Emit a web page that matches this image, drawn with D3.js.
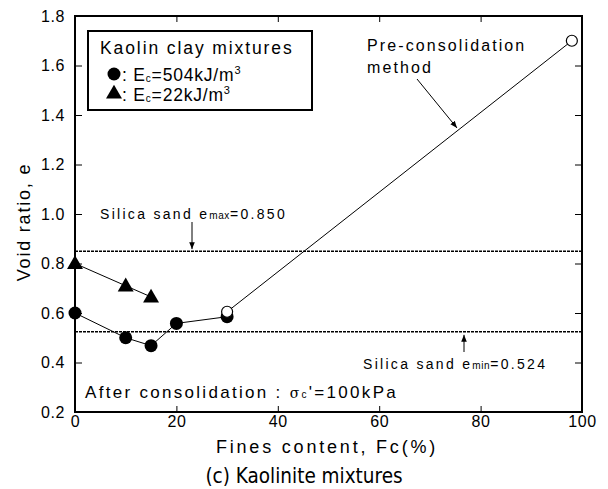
<!DOCTYPE html>
<html>
<head>
<meta charset="utf-8">
<script src="https://cdn.jsdelivr.net/npm/d3@7"></script>
<style>
    body { margin: 0; background: #fff; }
    svg { display: block; font-family: "Liberation Sans", Arial, sans-serif; }
    .axis path { display: none; }
    .axis line { stroke: #000; stroke-width: 1; }
    .axis text { font-size: 16px; fill: #000; letter-spacing: 0.6px; font-family: "Liberation Sans", Arial, sans-serif; }
</style>
</head>
<body>
<svg id="chart" width="608" height="489"></svg>
<script>
/**
 * Data.
 */
const xTicks = [0, 20, 40, 60, 80, 100],
    yTicks = [0.2, 0.4, 0.6, 0.8, 1.0, 1.2, 1.4, 1.6, 1.8];

// Ec = 504 kJ/m3 (filled circles)
const highEnergy = [
    { fc: 0, e: 0.60 }, { fc: 10, e: 0.50 }, { fc: 15, e: 0.468 },
    { fc: 20, e: 0.558 }, { fc: 30, e: 0.585 }
];
// Ec = 22 kJ/m3 (filled triangles)
const lowEnergy = [
    { fc: 0, e: 0.80 }, { fc: 10, e: 0.71 }, { fc: 15, e: 0.665 }
];
// Pre-consolidation method (open circles)
const preConsolidation = [
    { fc: 30, e: 0.605 }, { fc: 98, e: 1.70 }
];
const eMax = 0.850, eMin = 0.524;

/**
 * Visual configs.
 */
const margin = { top: 16, right: 26, bottom: 77, left: 75 },
    visWidth = 608, visHeight = 489,
    width = visWidth - margin.left - margin.right,
    height = visHeight - margin.top - margin.bottom;

const svg = d3.select('#chart');
const g = svg.append('g').attr('transform', 'translate(' + margin.left + ',' + margin.top + ')');

const xScale = d3.scaleLinear().domain([0, 100]).range([0, width]),
    yScale = d3.scaleLinear().domain([0.2, 1.8]).range([height, 0]);

// Axes, ticks pointing inward
g.append('g').attr('class', 'axis x')
    .attr('transform', 'translate(0,' + height + ')')
    .call(d3.axisBottom(xScale).tickValues(xTicks).tickSize(-6).tickPadding(4).tickFormat(d3.format('d')))
    .call(s => s.selectAll('line').filter(d => d === 0 || d === 100).remove());

g.append('g').attr('class', 'axis x-top')
    .call(d3.axisTop(xScale).tickValues(xTicks.slice(1, -1)).tickSize(-6).tickFormat(''));

g.append('g').attr('class', 'axis y')
    .call(d3.axisLeft(yScale).tickValues(yTicks).tickSize(-7).tickPadding(10).tickFormat(d3.format('.1f')))
    .call(s => s.selectAll('line').filter(d => d === 0.2 || d === 1.8).remove());

g.append('g').attr('class', 'axis y-right')
    .attr('transform', 'translate(' + width + ',0)')
    .call(d3.axisRight(yScale).tickValues(yTicks.slice(1, -1)).tickSize(-7).tickFormat(''));

// Frame
g.append('rect')
    .attr('width', width).attr('height', height)
    .attr('fill', 'none').attr('stroke', '#000').attr('stroke-width', 2);

// Reference lines for silica sand
[eMax, eMin].forEach(v => {
    g.append('line')
        .attr('x1', 0).attr('x2', width)
        .attr('y1', yScale(v)).attr('y2', yScale(v))
        .attr('stroke', '#000').attr('stroke-width', 1.5)
        .attr('stroke-dasharray', '3,1');
});

// Arrowhead marker
svg.append('defs').append('marker')
    .attr('id', 'arrow').attr('viewBox', '0 0 10 10')
    .attr('refX', 10).attr('refY', 5)
    .attr('markerWidth', 7).attr('markerHeight', 7)
    .attr('orient', 'auto-start-reverse')
    .append('path').attr('d', 'M0,1 L10,5 L0,9 Z').attr('fill', '#000');

const line = d3.line().x(d => xScale(d.fc)).y(d => yScale(d.e));

[highEnergy, lowEnergy, preConsolidation].forEach(series => {
    g.append('path').datum(series)
        .attr('d', line)
        .attr('fill', 'none').attr('stroke', '#000').attr('stroke-width', 1);
});

// Markers
g.selectAll('.circle').data(highEnergy).enter().append('circle')
    .attr('cx', d => xScale(d.fc)).attr('cy', d => yScale(d.e))
    .attr('r', 6.5).attr('fill', '#000');

const tri = d3.symbol().type(d3.symbolTriangle).size(110);
g.selectAll('.tri').data(lowEnergy).enter().append('path')
    .attr('d', tri)
    .attr('transform', d => 'translate(' + xScale(d.fc) + ',' + (yScale(d.e) + 1) + ')')
    .attr('fill', '#000');

g.selectAll('.open').data(preConsolidation).enter().append('circle')
    .attr('cx', d => xScale(d.fc)).attr('cy', d => yScale(d.e))
    .attr('r', 5.5).attr('fill', '#fff').attr('stroke', '#000').attr('stroke-width', 1.2);

// Legend box
const legend = svg.append('g').attr('transform', 'translate(88,31)');
legend.append('rect')
    .attr('width', 224).attr('height', 79)
    .attr('fill', '#fff').attr('stroke', '#000').attr('stroke-width', 2);
legend.append('text')
    .attr('x', 12).attr('y', 23)
    .style('font-size', '17.5px').style('letter-spacing', '1.9px')
    .text('Kaolin clay mixtures');
legend.append('circle').attr('cx', 26).attr('cy', 43).attr('r', 6.5).attr('fill', '#000');
legend.append('path').attr('d', tri).attr('transform', 'translate(26,63)').attr('fill', '#000');

function addEnergyLabel(y, value) {
    const t = legend.append('text').attr('x', 34).attr('y', y)
        .style('font-size', '17.5px').style('letter-spacing', '0.8px');
    t.append('tspan').text(': E');
    t.append('tspan').style('font-size', '10px').attr('dy', 1).text('c');
    t.append('tspan').attr('dy', -1).text('=' + value + 'kJ/m');
    t.append('tspan').style('font-size', '11px').attr('dy', -7).text('3');
}
addEnergyLabel(50, 504);
addEnergyLabel(70, 22);

// Annotation text helper: "Silica sand e_sub=value"
function addSandLabel(x, y, sub, value) {
    const t = svg.append('text').attr('x', x).attr('y', y)
        .style('font-size', '14px').style('letter-spacing', '2.3px');
    t.append('tspan').text('Silica sand e');
    t.append('tspan').style('font-size', '10px').style('letter-spacing', '0.6px').text(sub);
    t.append('tspan').text('=' + value.toFixed(3));
}
addSandLabel(100, 219, 'max', eMax);
addSandLabel(363, 369, 'min', eMin);

// Arrows for silica sand labels
svg.append('line')
    .attr('x1', 192).attr('y1', 222).attr('x2', 192).attr('y2', margin.top + yScale(eMax) - 2)
    .attr('stroke', '#000').attr('stroke-width', 1).attr('marker-end', 'url(#arrow)');
svg.append('line')
    .attr('x1', 464).attr('y1', 352).attr('x2', 464).attr('y2', margin.top + yScale(eMin) + 3)
    .attr('stroke', '#000').attr('stroke-width', 1).attr('marker-end', 'url(#arrow)');

// Pre-consolidation annotation
const pre = svg.append('text')
    .style('font-size', '16px').style('letter-spacing', '2.1px');
pre.append('tspan').attr('x', 367).attr('y', 51).text('Pre-consolidation');
pre.append('tspan').attr('x', 367).attr('y', 73).text('method');
svg.append('line')
    .attr('x1', 417).attr('y1', 79).attr('x2', 457).attr('y2', 128)
    .attr('stroke', '#000').attr('stroke-width', 1).attr('marker-end', 'url(#arrow)');

// Consolidation note
const note = svg.append('text').attr('x', 85).attr('y', 398)
    .style('font-size', '17px').style('letter-spacing', '2.3px');
note.append('tspan').text('After consolidation : ');
note.append('tspan').style('font-family', '"DejaVu Serif", serif').style('font-size', '14px').text('σ');
note.append('tspan').style('font-size', '10px').text('c');
note.append('tspan').text("'=100kPa");

// Axis titles
svg.append('text')
    .attr('x', 327).attr('y', 453)
    .attr('text-anchor', 'middle')
    .style('font-size', '18px').style('letter-spacing', '2.8px')
    .text('Fines content, Fc(%)');

svg.append('text')
    .attr('transform', 'translate(30,222) rotate(-90)')
    .attr('text-anchor', 'middle')
    .style('font-size', '18px').style('letter-spacing', '1.8px')
    .text('Void ratio, e');

// Caption
svg.append('text')
    .attr('x', 304).attr('y', 483)
    .attr('text-anchor', 'middle')
    .style('font-family', '"Liberation Sans Narrow", "DejaVu Sans Condensed", sans-serif')
    .style('font-size', '20.5px')
    .text('(c) Kaolinite mixtures');
</script>
</body>
</html>
